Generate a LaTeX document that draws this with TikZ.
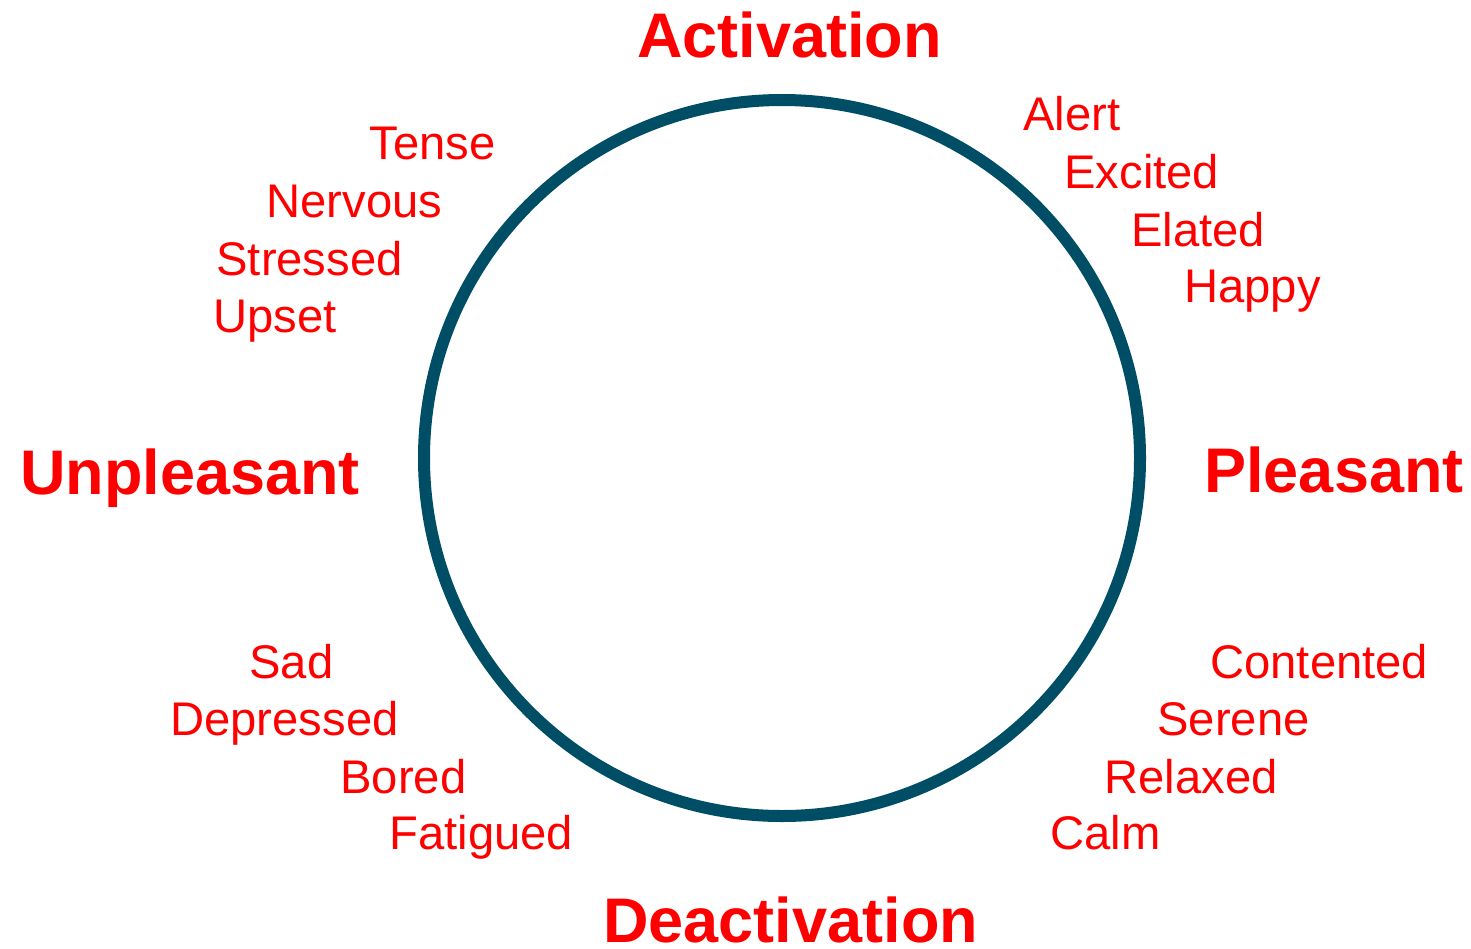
\documentclass[tikz,border=0pt]{standalone}
\usepackage{fontspec}
\setmainfont{Liberation Sans}
\definecolor{ringblue}{RGB}{0,78,102}
\definecolor{labelred}{RGB}{255,0,0}
\tikzset{
  axislabel/.style={text=labelred, font=\fontsize{31.5}{36}\selectfont\bfseries, inner sep=0pt, anchor=base west},
  moodlabel/.style={text=labelred, font=\fontsize{23.6}{28}\selectfont, inner sep=0pt, anchor=base west}
}
\begin{document}
\begin{tikzpicture}[x=0.5pt,y=-0.5pt]
        \useasboundingbox (0,0) rectangle (1471,948);
        %% circle
        \draw[ringblue, line width=6pt] (782,458) circle (358);
        %% axis labels
        \node[axislabel] (act) at (637,57) {Activation};
        \node[axislabel] (deact) at (603,942) {Deactivation};
        \node[axislabel] (unpl) at (20,494) {Unpleasant};
        \node[axislabel] (pleas) at (1204,492) {Pleasant};
        %% upper right
        \node[moodlabel] (alert) at (1023,130) {Alert};
        \node[moodlabel] (excited) at (1064,188) {Excited};
        \node[moodlabel] (elated) at (1131,246) {Elated};
        \node[moodlabel] (happy) at (1184,302) {Happy};
        %% upper left
        \node[moodlabel] (tense) at (369,159) {Tense};
        \node[moodlabel] (nervous) at (266,217) {Nervous};
        \node[moodlabel] (stressed) at (216,275) {Stressed};
        \node[moodlabel] (upset) at (213,332) {Upset};
        %% lower left
        \node[moodlabel] (sad) at (249,678) {Sad};
        \node[moodlabel] (depressed) at (170,735) {Depressed};
        \node[moodlabel] (bored) at (340,793) {Bored};
        \node[moodlabel] (fatigued) at (389,849) {Fatigued};
        %% lower right
        \node[moodlabel] (contented) at (1210,678) {Contented};
        \node[moodlabel] (serene) at (1157,735) {Serene};
        \node[moodlabel] (relaxed) at (1104,793) {Relaxed};
        \node[moodlabel] (calm) at (1050,849) {Calm};
    \end{tikzpicture}
\end{document}
